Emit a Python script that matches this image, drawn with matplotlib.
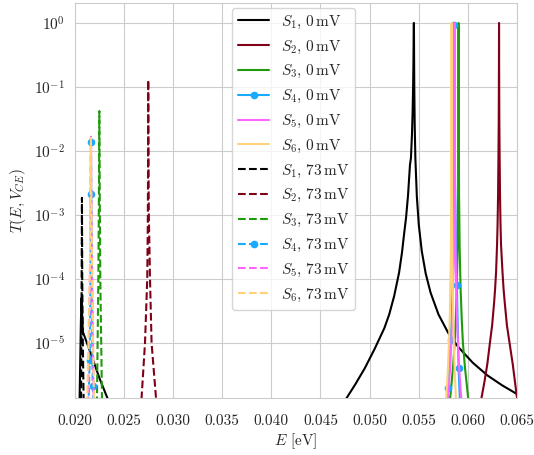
import matplotlib
matplotlib.use("Agg")
import matplotlib.pyplot as plt
import seaborn as sns

# energias (eV) y transmision
# --- V = 0 mV ---
E_s1_0 = [0.0204, 0.02060, 0.02066, 0.02072, 0.0208, 0.0216, 0.0225, 0.0233, 0.0245,
          0.030, 0.044, 0.0470, 0.04766, 0.0485, 0.0495, 0.0505, 0.0515, 0.0520,
          0.0525, 0.0530, 0.0533, 0.05351, 0.05371, 0.05391, 0.05411, 0.05421,
          0.05431, 0.05438, 0.05443, 0.05446, 0.05448, 0.05450, 0.05451,
          0.05452, 0.05453, 0.05455, 0.05459, 0.05466, 0.05481, 0.05501, 0.05531,
          0.05571, 0.05621, 0.05701, 0.05801, 0.05901, 0.06051, 0.06201, 0.06351,
          0.06501, 0.06601]
T_s1_0 = [3e-7, 2e-5, 5e-5, 3e-5, 1.5e-5, 6.9e-6, 2.8e-6, 1.38e-6, 5e-7,
          1e-8, 2e-7, 1e-6, 1.38e-6, 2.2e-6, 4e-6, 8e-6, 1.7e-5, 2.8e-5,
          5.4e-5, 1.25e-4, 2.6e-4, 5e-4, 9e-4, 2e-3, 6e-3, 7.8e-3,
          1.74e-2, 4e-2, 1e-1, 0.22, 0.44, 0.877, 1.0,
          0.637, 0.305, 0.099, 2.67e-2, 7.7e-3, 1.95e-3, 7e-4, 2.74e-4,
          1.22e-4, 6.1e-5, 2.8e-5, 1.43e-5, 8.7e-6, 4.9e-6, 3.1e-6, 2.17e-6,
          1.59e-6, 1.33e-6]

E_s2_0 = [0.06098, 0.0614, 0.06168, 0.06198, 0.06225, 0.06248, 0.06268, 0.06278,
          0.06288, 0.06298, 0.06303, 0.06308, 0.06312, 0.06315, 0.06317, 0.06318,
          0.06319, 0.06321, 0.06324, 0.06328, 0.06333, 0.06338, 0.06353, 0.06364,
          0.06376, 0.06398, 0.06425, 0.06458, 0.06498, 0.06528]
T_s2_0 = [7.5e-7, 1.4e-6, 2.4e-6, 4.6e-6, 1e-5, 1.9e-5, 4.3e-5, 7e-5,
          1.3e-4, 3.5e-4, 7e-4, 2e-3, 8e-3, 3e-2, 0.2, 1.0,
          0.2, 3e-2, 8e-3, 2e-3, 7e-4, 3.5e-4, 1.3e-4, 7e-5,
          4.3e-5, 1.9e-5, 1e-5, 4.6e-6, 1.5e-6, 9e-7]

E_s3_0 = [0.0580, 0.05825, 0.0585, 0.05866, 0.05878, 0.05888, 0.05896, 0.05901,
          0.05904, 0.05905, 0.05906, 0.05907, 0.05908, 0.05911, 0.05917, 0.05926,
          0.05938, 0.0595, 0.0597, 0.06001, 0.0603]
T_s3_0 = [8.7e-7, 1.6e-6, 4.3e-6, 1e-5, 2.4e-5, 7.5e-5, 3e-4, 2e-3,
          3e-2, 0.2, 1.0, 0.2, 3e-2, 2e-3, 3e-4, 7.5e-5,
          2.4e-5, 1e-5, 4.3e-6, 1.5e-6, 7e-7]

E_s4_0 = [0.0578, 0.05797, 0.05812, 0.05825, 0.05838, 0.05848, 0.05856, 0.0586,
          0.05862, 0.05863, 0.05864, 0.05865, 0.05867, 0.05871, 0.0588, 0.05889,
          0.05896, 0.05906, 0.0592]
T_s4_0 = [1e-6, 2e-6, 5e-6, 1.1e-5, 3e-5, 1e-4, 5e-4, 3e-3,
          3e-2, 0.2, 0.93, 0.2, 3e-2, 3e-3, 3e-4, 8e-5,
          2.4e-5, 4e-6, 1.2e-6]
mk_s4_0 = [1, 3, 10, 15, 17]

E_s5_0 = [0.0578, 0.05797, 0.0582, 0.05832, 0.05842, 0.0585, 0.05858, 0.05862,
          0.05864, 0.05865, 0.05866, 0.05867, 0.05868, 0.0587, 0.05874, 0.05882,
          0.0589, 0.0590, 0.05912, 0.05933, 0.0595]
T_s5_0 = [8e-7, 1.4e-6, 4e-6, 1e-5, 2.4e-5, 7.5e-5, 3e-4, 2e-3,
          3e-2, 0.2, 1.0, 0.2, 3e-2, 2e-3, 3e-4, 7.5e-5,
          2.4e-5, 1e-5, 4e-6, 1.4e-6, 8e-7]

E_s6_0 = [0.0577, 0.0578, 0.05798, 0.05808, 0.05816, 0.05822, 0.05828, 0.05831,
          0.05833, 0.05834, 0.05835, 0.05836, 0.05837, 0.05839, 0.05842, 0.05847,
          0.05852, 0.05858, 0.05865, 0.05879, 0.0589]
T_s6_0 = [9e-7, 1.4e-6, 4e-6, 1e-5, 2.4e-5, 7.5e-5, 3e-4, 2e-3,
          3e-2, 0.2, 1.0, 0.2, 3e-2, 2e-3, 3e-4, 7.5e-5,
          2.4e-5, 1e-5, 4e-6, 1.4e-6, 8e-7]

# --- V = 73 mV ---
E_s1_73 = [0.0205, 0.02062, 0.02068, 0.02071, 0.02074, 0.02080, 0.02088, 0.0210]
T_s1_73 = [4e-7, 1.4e-6, 1e-4, 1.85e-3, 1e-4, 1e-5, 1.4e-6, 4e-7]

E_s2_73 = [0.0265, 0.02678, 0.02713, 0.02736, 0.02742, 0.02745, 0.02746,
           0.02748, 0.02752, 0.02764, 0.0278, 0.02825, 0.0285]
T_s2_73 = [6e-7, 1.38e-6, 1e-5, 1e-4, 1e-3, 1e-2, 0.128,
           1e-2, 1e-3, 1e-4, 1e-5, 1.38e-6, 6e-7]

E_s3_73 = [0.0221, 0.02224, 0.02238, 0.02245, 0.02248, 0.02251, 0.02258, 0.02275, 0.0229]
T_s3_73 = [5e-7, 1.38e-6, 1e-4, 4e-3, 4.2e-2, 4e-3, 1e-4, 1.38e-6, 5e-7]

E_s4_73 = [0.02140, 0.02150, 0.02157, 0.02161, 0.02163, 0.02166, 0.02172, 0.02180, 0.02192]
T_s4_73 = [1.5e-6, 5.5e-6, 1e-4, 2.1e-3, 1.4e-2, 2e-3, 1e-4, 2.1e-6, 1e-6]
mk_s4_73 = [1, 3, 4, 7]

E_s5_73 = [0.0212, 0.02135, 0.02152, 0.02160, 0.02163, 0.02166, 0.02175, 0.02190, 0.0220]
T_s5_73 = [5e-7, 1.38e-6, 1e-4, 3e-3, 1.67e-2, 3e-3, 1e-4, 1.38e-6, 5e-7]

E_s6_73 = [0.0211, 0.02125, 0.02150, 0.02159, 0.02162, 0.02165, 0.02175, 0.02193, 0.0221]
T_s6_73 = [5e-7, 1.38e-6, 1e-4, 3e-3, 1.6e-2, 3e-3, 1e-4, 1.38e-6, 5e-7]

colores = ['black', '#800018', '#1f9a0a', '#18aaff', '#ff66ff', '#ffd27a']

sns.set_style("whitegrid")
plt.rcParams['font.family'] = 'serif'
plt.rcParams['font.serif'] = ['cmr10', 'DejaVu Serif']
plt.rcParams['mathtext.fontset'] = 'cm'
plt.rcParams['axes.formatter.use_mathtext'] = True
plt.rcParams['font.size'] = 11

fig = plt.figure(figsize=(5.34, 4.55), dpi=100)
ax = fig.add_axes([0.1404, 0.1253, 0.8276, 0.8681])

datos_0 = [(E_s1_0, T_s1_0), (E_s2_0, T_s2_0), (E_s3_0, T_s3_0),
           (E_s4_0, T_s4_0), (E_s5_0, T_s5_0), (E_s6_0, T_s6_0)]
datos_73 = [(E_s1_73, T_s1_73), (E_s2_73, T_s2_73), (E_s3_73, T_s3_73),
            (E_s4_73, T_s4_73), (E_s5_73, T_s5_73), (E_s6_73, T_s6_73)]

for i, (E, T) in enumerate(datos_0):
    kw = {}
    if i == 3:
        kw = dict(marker='o', markersize=4.5, markevery=mk_s4_0)
    ax.plot(E, T, color=colores[i], lw=1.5,
            label=rf"$S_{i+1},\,0\,\mathrm{{mV}}$", **kw)

for i, (E, T) in enumerate(datos_73):
    kw = {}
    if i == 3:
        kw = dict(marker='o', markersize=4.5, markevery=mk_s4_73)
    ax.plot(E, T, color=colores[i], lw=1.5, ls='--',
            label=rf"$S_{i+1},\,73\,\mathrm{{mV}}$", **kw)

ax.set_yscale('log')
ax.set_xlim(0.020, 0.065)
ax.set_ylim(1.38e-6, 2.05)
ax.set_xticks([0.020, 0.025, 0.030, 0.035, 0.040, 0.045, 0.050, 0.055, 0.060, 0.065])
ax.set_xticklabels(["0.020", "0.025", "0.030", "0.035", "0.040", "0.045",
                    "0.050", "0.055", "0.060", "0.065"])
ax.set_xlabel(r"$E$ [eV]", labelpad=3)
ax.set_ylabel(r"$T(E, V_{CE})$")
ax.tick_params(axis='both', labelsize=11)
ax.tick_params(axis='x', pad=8)
ax.legend(loc='upper center', bbox_to_anchor=(0.495, 1.0), fontsize=11,
          handlelength=2.0, borderaxespad=0.3)

fig.savefig("out.png", dpi=100)
